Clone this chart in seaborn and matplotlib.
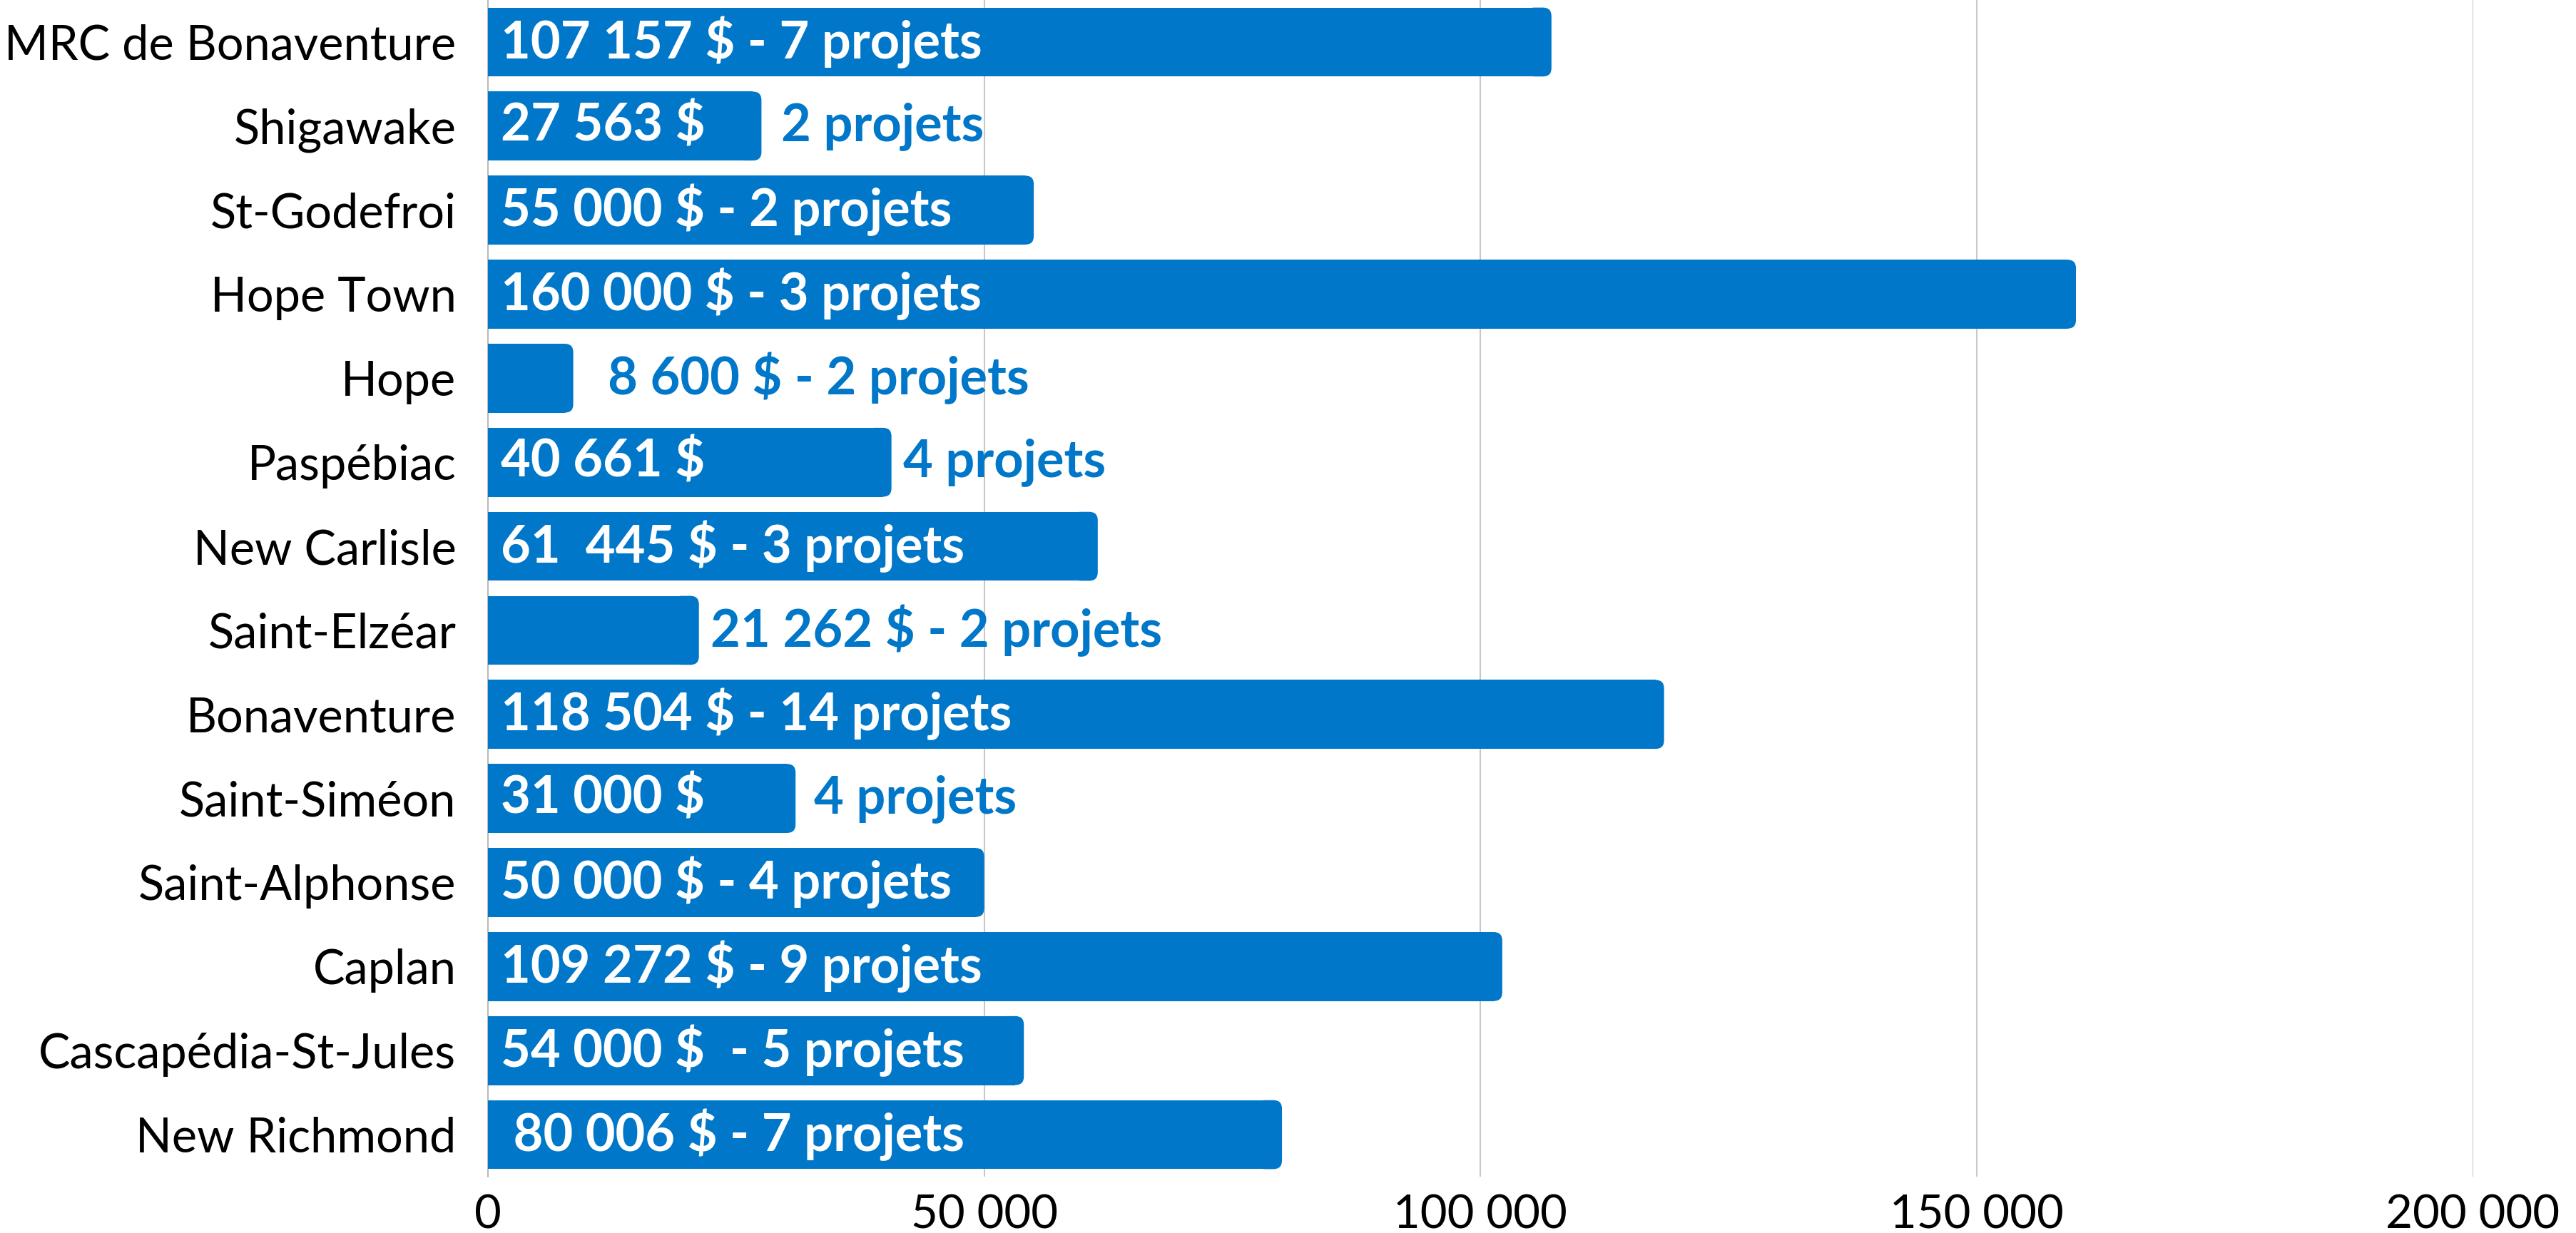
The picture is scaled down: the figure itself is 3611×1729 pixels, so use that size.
import matplotlib
matplotlib.use("Agg")
import matplotlib.pyplot as plt
from matplotlib.patches import FancyBboxPatch
import seaborn as sns
import pandas as pd

categories = ["MRC de Bonaventure", "Shigawake", "St-Godefroi", "Hope Town", "Hope",
              "Paspébiac", "New Carlisle", "Saint-Elzéar", "Bonaventure", "Saint-Siméon",
              "Saint-Alphonse", "Caplan", "Cascapédia-St-Jules", "New Richmond"]
bar_values = [107157, 27563, 55000, 160000, 8600, 40661, 61445, 21262, 118504, 31000,
              50000, 102200, 54000, 80006]
inside_labels = ["107 157 $ - 7 projets", "27 563 $", "55 000 $ - 2 projets",
                 "160 000 $ - 3 projets", "", "40 661 $", "61  445 $ - 3 projets", "",
                 "118 504 $ - 14 projets", "31 000 $", "50 000 $ - 4 projets",
                 "109 272 $ - 9 projets", "54 000 $  - 5 projets", " 80 006 $ - 7 projets"]
outside_labels = ["", "2 projets", "", "", "8 600 $ - 2 projets", "4 projets", "",
                  "21 262 $ - 2 projets", "", "4 projets", "", "", "", ""]
outside_offsets = [0, 12, 0, 0, 21, 7, 0, 7, 0, 11, 0, 0, 0, 0]
x_ticks = [0, 50000, 100000, 150000, 200000]
x_ticklabels = ["0", "50 000", "100 000", "150 000", "200 000"]

BLUE = "#0077C8"
sns.set_theme(style="white")
plt.rcParams["font.family"] = ["Lato", "DejaVu Sans"]

df = pd.DataFrame({"cat": categories, "val": bar_values})
fig = plt.figure(figsize=(36.11, 17.29), dpi=100)
ax = fig.add_axes([0.1894, 0.0457, 0.960 - 0.1894, 1.0 - 0.0457])
sns.barplot(data=df, y="cat", x="val", orient="h", color=BLUE, saturation=1,
            width=0.82, ax=ax, zorder=3)

ax.set_xlim(0, 200000)
ax.set_ylim(13.5, -0.5)

# round the right corners of the bars
px_x = 200000 / (3466 - 684)
px_y = 1 / 118.2
r = 12 * px_x
for p in list(ax.patches):
    x0, y0, w, h = p.get_x(), p.get_y(), p.get_width(), p.get_height()
    p.set_width(w - r)
    p.set_edgecolor("none")
    fb = FancyBboxPatch((x0 + w - 3 * r, y0), 3 * r, h,
                        boxstyle=f"round,pad=0,rounding_size={r}",
                        mutation_aspect=px_y / px_x,
                        facecolor=BLUE, edgecolor="none", zorder=3)
    ax.add_patch(fb)

ax.grid(axis="x", color="#c8c8c8", linewidth=1.5, zorder=0)
ax.grid(axis="y", visible=False)
for s in ["top", "right", "bottom"]:
    ax.spines[s].set_visible(False)
ax.spines["left"].set_color("#bbbbbb")
ax.spines["left"].set_linewidth(1.5)
ax.spines["left"].set_zorder(1)

ax.set_xticks(x_ticks)
ax.set_xticklabels(x_ticklabels)
ax.tick_params(axis="x", length=0, pad=18, labelsize=47)
ax.tick_params(axis="y", length=0, pad=32, labelsize=48)
for t in ax.get_xticklabels() + ax.get_yticklabels():
    t.set_fontweight("normal")
    t.set_color("black")
ax.set_xlabel("")
ax.set_ylabel("")

for i, (v, lin, lout, off) in enumerate(zip(bar_values, inside_labels, outside_labels, outside_offsets)):
    if lin:
        ax.annotate(lin, xy=(0, i), xytext=(13, 0), textcoords="offset points",
                    ha="left", va="center", color="white", fontsize=52,
                    fontweight="bold", zorder=5)
    if lout:
        ax.annotate(lout, xy=(v, i), xytext=(off * 2.303 * 0.72, 0), textcoords="offset points",
                    ha="left", va="center", color=BLUE, fontsize=52,
                    fontweight="bold", zorder=5)

fig.savefig("out.png", dpi=100)
